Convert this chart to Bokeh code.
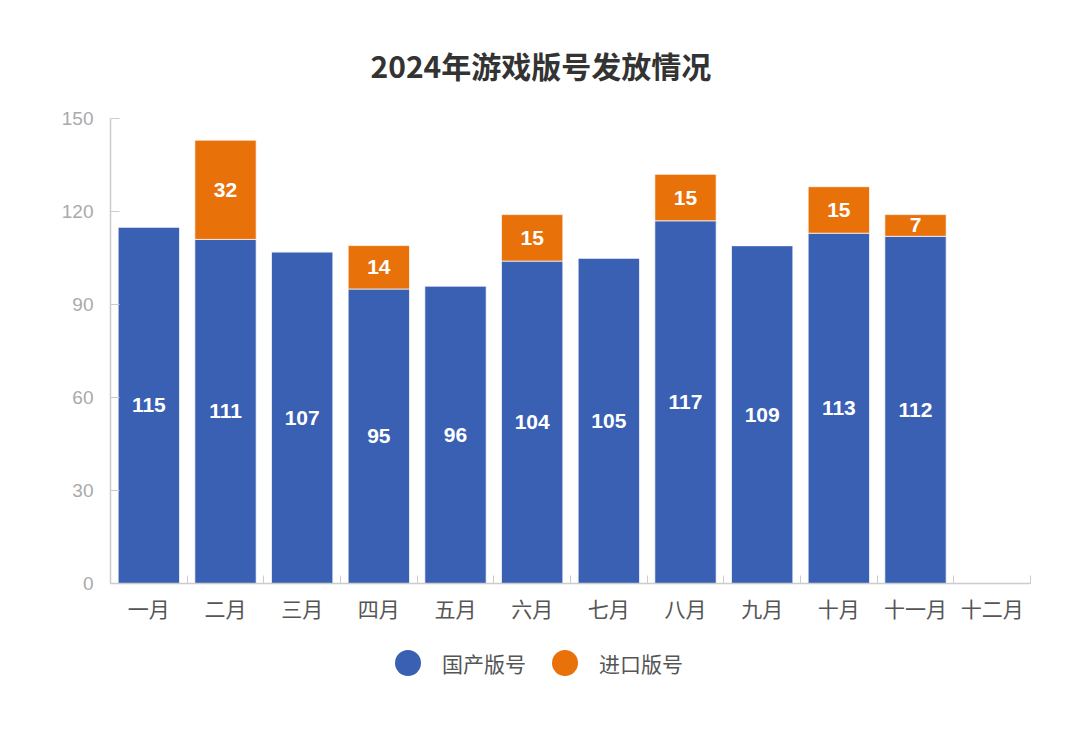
from bokeh.plotting import figure
from bokeh.layouts import column
from bokeh.models import (ColumnDataSource, Range1d, FixedTicker, Legend, LegendItem, Title)
from bokeh.core.properties import value
from bokeh.embed import file_html
from bokeh.resources import INLINE

months = ["一月", "二月", "三月", "四月", "五月", "六月", "七月", "八月", "九月", "十月", "十一月", "十二月"]
domestic = [115, 111, 107, 95, 96, 104, 105, 117, 109, 113, 112, 0]
imported = [0, 32, 0, 14, 0, 15, 0, 15, 0, 15, 7, 0]
series_names = ["国产版号", "进口版号"]
y_ticks = [0, 30, 60, 90, 120, 150]

BLUE = "#3A60B4"
ORANGE = "#E8710A"
CJK = "Noto Sans CJK SC"
NUM = "Liberation Sans"

xs = [i + 0.5 for i in range(len(months))]
tops = [d + m for d, m in zip(domestic, imported)]
src = ColumnDataSource(dict(x=xs, dom=domestic, imp=imported, top=tops))

p = figure(width=1064, height=630, output_backend="svg", toolbar_location=None,
           x_range=Range1d(0, 12), y_range=Range1d(0, 150),
           min_border_left=110, min_border_right=34, min_border_top=118, min_border_bottom=47)
p.outline_line_color = None
p.background_fill_color = "white"
p.border_fill_color = "white"
p.grid.grid_line_color = None

t = Title(text="2024年游戏版号发放情况", align="left", offset=260, text_font_size="30px",
          text_color="#333333", text_font_style="bold", text_font=CJK, standoff=63)
p.add_layout(t, "above")

p.vbar(x="x", top="dom", bottom=0, width=0.8, source=src, fill_color=BLUE,
       line_color="white", line_alpha=0.7, line_width=1)
p.vbar(x="x", top="top", bottom="dom", width=0.8, source=src, fill_color=ORANGE,
       line_color="white", line_alpha=0.7, line_width=1)

# value labels
dl = [(x, d / 2, str(d)) for x, d in zip(xs, domestic) if d > 0]
il = [(x, d + m / 2, str(m)) for x, d, m in zip(xs, domestic, imported) if m > 0]
for rows in (dl, il):
    s = ColumnDataSource(dict(x=[r[0] for r in rows], y=[r[1] for r in rows], t=[r[2] for r in rows]))
    p.text(x="x", y="y", text="t", source=s, text_align="center", text_baseline="middle",
           text_color="white", text_font=value(NUM), text_font_style="bold", text_font_size="21px")

# axes
xa = p.xaxis[0]
xa.ticker = FixedTicker(ticks=xs, minor_ticks=list(range(13)))
xa.major_label_overrides = {x: m for x, m in zip(xs, months)}
xa.major_tick_line_color = None
xa.minor_tick_in = 8
xa.minor_tick_out = 0
xa.minor_tick_line_color = "#cccccc"
xa.axis_line_color = "#cccccc"
xa.axis_line_width = 1.5
xa.major_label_text_font = CJK
xa.major_label_text_font_size = "21px"
xa.major_label_text_color = "#555555"
xa.major_label_standoff = 3

ya = p.yaxis[0]
ya.ticker = FixedTicker(ticks=y_ticks)
ya.major_tick_in = 9
ya.major_tick_out = 0
ya.minor_tick_line_color = None
ya.major_tick_line_color = "#cccccc"
ya.axis_line_color = "#cccccc"
ya.axis_line_width = 1.5
ya.major_label_text_font = NUM
ya.major_label_text_font_size = "19px"
ya.major_label_text_color = "#aaaaaa"
ya.major_label_standoff = 17

# legend in its own strip below the chart
lf = figure(width=1064, height=97, output_backend="svg", toolbar_location=None,
            x_range=Range1d(0, 1), y_range=Range1d(0, 1),
            min_border_left=0, min_border_right=0, min_border_top=0, min_border_bottom=0)
lf.axis.visible = False
lf.grid.grid_line_color = None
lf.outline_line_color = None
lf.border_fill_color = "white"
nan = float("nan")
lg_dom = lf.scatter(x=[nan], y=[nan], marker="circle", fill_color=BLUE, line_color=None)
lg_imp = lf.scatter(x=[nan], y=[nan], marker="circle", fill_color=ORANGE, line_color=None)
legend = Legend(items=[LegendItem(label=series_names[0], renderers=[lg_dom]),
                       LegendItem(label=series_names[1], renderers=[lg_imp])],
                orientation="horizontal", location=(265, 32),
                glyph_width=65, glyph_height=65, label_standoff=2, spacing=6,
                label_text_font=CJK, label_text_font_size="21px", label_text_color="#555555",
                border_line_color=None, background_fill_alpha=0, padding=0, margin=0)
lf.add_layout(legend, "center")

layout = column(p, lf, spacing=0)
open("out.html", "w").write(file_html(layout, INLINE))
